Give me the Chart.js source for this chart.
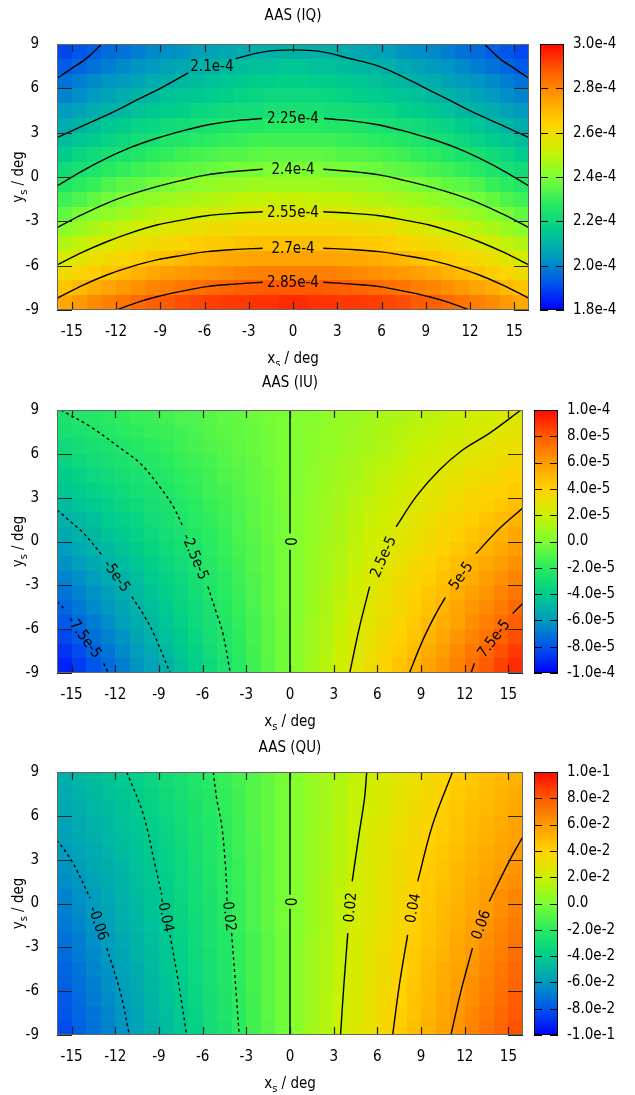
<!DOCTYPE html>
<html>
<head>
<meta charset="utf-8">
<title>AAS maps</title>
<script src="https://cdn.jsdelivr.net/npm/chart.js@4.4.1/dist/chart.umd.min.js"></script>
<style>
  html, body { margin: 0; padding: 0; background: #fff; }
  #wrap { width: 635px; }
  canvas { display: block; }
</style>
</head>
<body>
<div id="wrap">
  <canvas id="iqChart" width="635" height="366"></canvas>
  <canvas id="iuChart" width="635" height="364"></canvas>
  <canvas id="quChart" width="635" height="365"></canvas>
</div>
<script>
// cell centres in deg (1 deg cells)
const xCells = [-15.5,-14.5,-13.5,-12.5,-11.5,-10.5,-9.5,-8.5,-7.5,-6.5,-5.5,-4.5,-3.5,-2.5,-1.5,-0.5,
                0.5,1.5,2.5,3.5,4.5,5.5,6.5,7.5,8.5,9.5,10.5,11.5,12.5,13.5,14.5,15.5];
const yCells = [8.5,7.5,6.5,5.5,4.5,3.5,2.5,1.5,0.5,-0.5,-1.5,-2.5,-3.5,-4.5,-5.5,-6.5,-7.5,-8.5];
const xTicks = [-15,-12,-9,-6,-3,0,3,6,9,12,15];
const yTicks = [-9,-6,-3,0,3,6,9];

// AAS (IQ), units of 1e-6
const iqRows = [
  [190,192,194,196,197,199,201,202,203,205,206,207,208,209,209,210,210,209,209,208,207,206,205,203,202,201,199,197,196,194,192,190],
  [193,195,197,199,201,203,204,206,207,209,210,211,212,213,213,214,214,213,213,212,211,210,209,207,206,204,203,201,199,197,195,193],
  [197,199,201,203,204,206,208,209,211,212,213,214,215,216,216,217,217,216,216,215,214,213,212,211,209,208,206,204,203,201,199,197],
  [200,202,204,206,208,210,211,213,214,215,216,217,218,219,220,220,220,220,219,218,217,216,215,214,213,211,210,208,206,204,202,200],
  [204,206,208,210,211,213,215,216,217,219,220,221,222,222,223,223,223,223,222,222,221,220,219,217,216,215,213,211,210,208,206,204],
  [208,210,212,214,216,218,219,221,222,223,224,225,226,226,227,227,227,227,226,226,225,224,223,222,221,219,218,216,214,212,210,208],
  [212,214,216,218,220,222,223,225,226,227,228,229,230,231,231,231,231,231,231,230,229,228,227,226,225,223,222,220,218,216,214,212],
  [216,219,221,223,224,226,228,229,231,232,233,234,234,235,236,236,236,236,235,234,234,233,232,231,229,228,226,224,223,221,219,216],
  [221,223,225,227,229,231,232,234,235,236,237,238,239,239,240,240,240,240,239,239,238,237,236,235,234,232,231,229,227,225,223,221],
  [226,228,230,233,235,236,238,239,241,242,243,244,244,245,245,245,245,245,245,244,244,243,242,241,239,238,236,235,233,230,228,226],
  [231,233,236,238,240,242,243,245,246,247,248,249,250,250,251,251,251,251,250,250,249,248,247,246,245,243,242,240,238,236,233,231],
  [236,239,241,243,245,247,249,250,251,253,254,254,255,256,256,256,256,256,256,255,254,254,253,251,250,249,247,245,243,241,239,236],
  [242,244,247,249,251,253,254,256,257,259,260,260,261,262,262,262,262,262,262,261,260,260,259,257,256,254,253,251,249,247,244,242],
  [248,250,253,255,257,259,260,262,263,265,266,266,267,268,268,268,268,268,268,267,266,266,265,263,262,260,259,257,255,253,250,248],
  [254,256,259,261,263,265,267,268,270,271,272,273,273,274,274,274,274,274,274,273,273,272,271,270,268,267,265,263,261,259,256,254],
  [260,263,265,267,269,271,273,275,276,277,278,279,280,281,281,281,281,281,281,280,279,278,277,276,275,273,271,269,267,265,263,260],
  [267,269,272,274,276,278,280,281,283,284,285,286,287,287,288,288,288,288,287,287,286,285,284,283,281,280,278,276,274,272,269,267],
  [273,276,279,281,283,285,287,288,290,291,292,293,293,294,294,295,295,294,294,293,293,292,291,290,288,287,285,283,281,279,276,273]
];
const iqBarTicks = [180,200,220,240,260,280,300];
const iqBarLabels = ['1.8e-4','2.0e-4','2.2e-4','2.4e-4','2.6e-4','2.8e-4','3.0e-4'];
// contour lines: label, dashed, part before label, part after label
const iqLines = [
  ['', false, [[-16,6.68],[-15,7.35],[-14,8.03],[-12.97,9]], []],
  ['', false, [[12.97,9],[14,8.03],[15,7.35],[16,6.68]], []],
  ['2.1e-4', false, [[-16,2.66],[-14.3,3.45],[-12.6,4.2],[-10.5,5.25],[-8.8,6.1],[-7.1,7.05]],
    [[-3.9,8.0],[-2,8.47],[0,8.6],[2,8.47],[3.9,8.0],[5.5,7.6],[7.1,6.95],[8.8,6.1],[10.5,5.25],[12.6,4.2],[14.3,3.45],[16,2.66]]],
  ['2.25e-4', false, [[-16,-0.61],[-14.3,0.4],[-12.63,1.27],[-11,2.0],[-9.24,2.62],[-7.5,3.12],[-5.85,3.52],[-4,3.8],[-2.1,3.96]],
    [[2.1,3.96],[4,3.8],[5.85,3.52],[7.5,3.12],[9.24,2.62],[11,2.0],[12.63,1.27],[14.3,0.4],[16,-0.61]]],
  ['2.4e-4', false, [[-16,-3.43],[-14.3,-2.55],[-12.63,-1.78],[-11,-1.18],[-9.24,-0.65],[-7.5,-0.22],[-5.85,0.14],[-4,0.37],[-2.05,0.52]],
    [[2.05,0.52],[4,0.37],[5.85,0.14],[7.5,-0.22],[9.24,-0.65],[11,-1.18],[12.63,-1.78],[14.3,-2.55],[16,-3.43]]],
  ['2.55e-4', false, [[-16,-5.95],[-14.3,-5.1],[-12.63,-4.38],[-11,-3.78],[-9.24,-3.25],[-7.5,-2.9],[-5.85,-2.62],[-4,-2.46],[-2.05,-2.35]],
    [[2.05,-2.35],[4,-2.46],[5.85,-2.62],[7.5,-2.9],[9.24,-3.25],[11,-3.78],[12.63,-4.38],[14.3,-5.1],[16,-5.95]]],
  ['2.7e-4', false, [[-16,-8.21],[-14.3,-7.35],[-12.63,-6.63],[-11,-6.08],[-9.24,-5.61],[-7.5,-5.3],[-5.85,-5.05],[-4,-4.91],[-2.05,-4.82]],
    [[2.05,-4.82],[4,-4.91],[5.85,-5.05],[7.5,-5.3],[9.24,-5.61],[11,-6.08],[12.63,-6.63],[14.3,-7.35],[16,-8.21]]],
  ['2.85e-4', false, [[-11.95,-9],[-10.6,-8.5],[-9.24,-8.1],[-7.5,-7.72],[-5.85,-7.42],[-4,-7.25],[-2.05,-7.12]],
    [[2.05,-7.12],[4,-7.25],[5.85,-7.42],[7.5,-7.72],[9.24,-8.1],[10.6,-8.5],[11.95,-9]]]
];

// AAS (IU), units of 1e-6
const iuRows = [
  [-26,-24,-22,-21,-19,-17,-16,-14,-12,-11,-9,-7,-6,-4,-2,-1,1,2,4,6,7,9,11,12,14,16,17,19,21,22,24,26],
  [-28,-27,-25,-23,-21,-19,-17,-16,-14,-12,-10,-8,-6,-5,-3,-1,1,3,5,6,8,10,12,14,16,17,19,21,23,25,27,28],
  [-32,-30,-28,-26,-24,-22,-20,-18,-15,-13,-11,-9,-7,-5,-3,-1,1,3,5,7,9,11,13,15,18,20,22,24,26,28,30,32],
  [-36,-33,-31,-29,-26,-24,-22,-20,-17,-15,-13,-10,-8,-6,-3,-1,1,3,6,8,10,13,15,17,20,22,24,26,29,31,33,36],
  [-40,-37,-34,-32,-29,-27,-24,-22,-19,-17,-14,-11,-9,-6,-4,-1,1,4,6,9,11,14,17,19,22,24,27,29,32,34,37,40],
  [-43,-40,-38,-35,-32,-29,-27,-24,-21,-18,-15,-13,-10,-7,-4,-1,1,4,7,10,13,15,18,21,24,27,29,32,35,38,40,43],
  [-47,-44,-41,-38,-35,-32,-29,-26,-23,-20,-17,-14,-11,-8,-5,-2,2,5,8,11,14,17,20,23,26,29,32,35,38,41,44,47],
  [-51,-48,-45,-41,-38,-35,-31,-28,-25,-21,-18,-15,-12,-8,-5,-2,2,5,8,12,15,18,21,25,28,31,35,38,41,45,48,51],
  [-55,-51,-48,-44,-41,-37,-34,-30,-27,-23,-20,-16,-12,-9,-5,-2,2,5,9,12,16,20,23,27,30,34,37,41,44,48,51,55],
  [-59,-55,-51,-48,-44,-40,-36,-32,-29,-25,-21,-17,-13,-10,-6,-2,2,6,10,13,17,21,25,29,32,36,40,44,48,51,55,59],
  [-63,-59,-55,-51,-47,-43,-39,-35,-31,-27,-22,-18,-14,-10,-6,-2,2,6,10,14,18,22,27,31,35,39,43,47,51,55,59,63],
  [-67,-63,-59,-54,-50,-46,-41,-37,-33,-28,-24,-20,-15,-11,-7,-2,2,7,11,15,20,24,28,33,37,41,46,50,54,59,63,67],
  [-71,-67,-62,-58,-53,-48,-44,-39,-35,-30,-25,-21,-16,-12,-7,-2,2,7,12,16,21,25,30,35,39,44,48,53,58,62,67,71],
  [-75,-70,-65,-61,-56,-51,-46,-41,-36,-32,-27,-22,-17,-12,-7,-2,2,7,12,17,22,27,32,36,41,46,51,56,61,65,70,75],
  [-79,-74,-69,-64,-58,-53,-48,-43,-38,-33,-28,-23,-18,-13,-8,-3,3,8,13,18,23,28,33,38,43,48,53,58,64,69,74,79],
  [-83,-78,-72,-67,-62,-56,-51,-45,-40,-35,-29,-24,-19,-13,-8,-3,3,8,13,19,24,29,35,40,45,51,56,62,67,72,78,83],
  [-88,-82,-76,-71,-65,-59,-54,-48,-42,-37,-31,-25,-20,-14,-8,-3,3,8,14,20,25,31,37,42,48,54,59,65,71,76,82,88],
  [-92,-86,-80,-74,-68,-62,-57,-51,-45,-39,-33,-27,-21,-15,-9,-3,3,9,15,21,27,33,39,45,51,57,62,68,74,80,86,92]
];
const iuBarTicks = [-100,-80,-60,-40,-20,0,20,40,60,80,100];
const iuBarLabels = ['-1.0e-4','-8.0e-5','-6.0e-5','-4.0e-5','-2.0e-5','0.0','2.0e-5','4.0e-5','6.0e-5','8.0e-5','1.0e-4'];
const iuLines = [
  ['-2.5e-5', true, [[-15.75,9],[-13.71,7.86],[-11.47,6.26],[-10.29,5.35],[-8.95,3.75],[-8.01,2.38],[-7.35,1.01]],
    [[-5.64,-3.09],[-5.04,-4.92],[-4.61,-6.28],[-4.1,-9]]],
  ['2.5e-5', false, [[15.86,9],[13.68,7.4],[11.85,6.26],[10.26,4.89],[8.66,3.07],[7.29,1.01]],
    [[5.47,-3.09],[4.78,-5.83],[4.1,-9]]],
  ['-5e-5', true, [[-16,2.16],[-15,1.3],[-14.17,0.56],[-12.91,-0.92]],
    [[-10.86,-3.78],[-10.0,-5.1],[-9.37,-6.28],[-8.23,-9]]],
  ['5e-5', false, [[16,2.3],[14.4,0.9],[12.77,-0.83]],
    [[10.67,-3.83],[10.03,-4.92],[9.12,-6.75],[8.2,-9]]],
  ['-7.5e-5', true, [[-16,-4.12],[-15.43,-4.69]], [[-12.8,-8.34],[-12.46,-9]]],
  ['7.5e-5', false, [[16,-4.23],[15.29,-4.92]], [[12.66,-8.34],[12.43,-9]]],
  ['0', false, [[0,9],[0,0.57]], [[0,-0.57],[0,-9]]]
];

// AAS (QU), units of 1e-3
const quRows = [
  [-52,-49,-47,-44,-41,-38,-35,-31,-28,-24,-21,-17,-13,-10,-6,-2,2,6,10,13,17,21,24,28,31,35,38,41,44,47,49,52],
  [-54,-51,-48,-45,-43,-40,-36,-32,-29,-25,-22,-18,-14,-10,-6,-2,2,6,10,14,18,22,25,29,32,36,40,43,45,48,51,54],
  [-55,-52,-49,-47,-44,-41,-37,-33,-30,-26,-22,-18,-14,-10,-6,-2,2,6,10,14,18,22,26,30,33,37,41,44,47,49,52,55],
  [-57,-54,-51,-48,-45,-42,-39,-35,-31,-27,-23,-19,-15,-10,-6,-2,2,6,10,15,19,23,27,31,35,39,42,45,48,51,54,57],
  [-58,-55,-52,-49,-46,-43,-40,-36,-32,-28,-24,-19,-15,-11,-6,-2,2,6,11,15,19,24,28,32,36,40,43,46,49,52,55,58],
  [-60,-57,-54,-51,-47,-44,-41,-37,-33,-28,-24,-20,-15,-11,-7,-2,2,7,11,15,20,24,28,33,37,41,44,47,51,54,57,60],
  [-62,-59,-55,-52,-49,-45,-42,-38,-34,-29,-25,-20,-16,-11,-7,-2,2,7,11,16,20,25,29,34,38,42,45,49,52,55,59,62],
  [-64,-61,-57,-54,-50,-46,-43,-39,-34,-30,-25,-21,-16,-12,-7,-2,2,7,12,16,21,25,30,34,39,43,46,50,54,57,61,64],
  [-67,-63,-59,-55,-51,-47,-44,-40,-35,-30,-26,-21,-17,-12,-7,-2,2,7,12,17,21,26,30,35,40,44,47,51,55,59,63,67],
  [-68,-64,-60,-56,-52,-48,-44,-40,-36,-31,-26,-22,-17,-12,-7,-2,2,7,12,17,22,26,31,36,40,44,48,52,56,60,64,68],
  [-70,-66,-62,-58,-53,-49,-45,-41,-36,-32,-27,-22,-17,-12,-7,-2,2,7,12,17,22,27,32,36,41,45,49,53,58,62,66,70],
  [-72,-68,-63,-59,-55,-50,-46,-42,-37,-32,-27,-23,-18,-13,-8,-3,3,8,13,18,23,27,32,37,42,46,50,55,59,63,68,72],
  [-74,-69,-65,-60,-56,-51,-47,-43,-38,-33,-28,-23,-18,-13,-8,-3,3,8,13,18,23,28,33,38,43,47,51,56,60,65,69,74],
  [-76,-71,-66,-62,-57,-53,-48,-43,-39,-34,-29,-24,-18,-13,-8,-3,3,8,13,18,24,29,34,39,43,48,53,57,62,66,71,76],
  [-77,-72,-68,-63,-58,-54,-49,-44,-40,-34,-29,-24,-19,-13,-8,-3,3,8,13,19,24,29,34,40,44,49,54,58,63,68,72,77],
  [-79,-74,-69,-64,-60,-55,-50,-45,-40,-35,-30,-25,-19,-14,-8,-3,3,8,14,19,25,30,35,40,45,50,55,60,64,69,74,79],
  [-80,-75,-71,-66,-61,-56,-51,-46,-41,-36,-30,-25,-20,-14,-8,-3,3,8,14,20,25,30,36,41,46,51,56,61,66,71,75,80],
  [-82,-77,-72,-67,-62,-57,-52,-47,-42,-37,-31,-26,-20,-14,-9,-3,3,9,14,20,26,31,37,42,47,52,57,62,67,72,77,82]
];
const quBarTicks = [-100,-80,-60,-40,-20,0,20,40,60,80,100];
const quBarLabels = ['-1.0e-1','-8.0e-2','-6.0e-2','-4.0e-2','-2.0e-2','0.0','2.0e-2','4.0e-2','6.0e-2','8.0e-2','1.0e-1'];
const quLines = [
  ['-0.02', true, [[-5.27,9],[-5.04,7.22],[-4.7,5.39],[-4.47,3.11],[-4.32,0.6]], [[-4.01,-2.03],[-3.67,-6.48],[-3.49,-9]]],
  ['0.02', false, [[5.27,9],[5.12,7.22],[4.77,4.93],[4.27,1.51]], [[3.97,-2.03],[3.7,-5.57],[3.47,-9]]],
  ['-0.04', true, [[-11.21,9],[-10.07,6.08],[-9.27,2.65],[-8.81,0.6]], [[-8.24,-2.14],[-7.67,-5.34],[-7.1,-9]]],
  ['0.04', false, [[11.16,9],[9.79,5.39],[8.77,1.51]], [[8.08,-2.14],[7.51,-5.57],[7.05,-9]]],
  ['-0.06', true, [[-16,4.36],[-14.97,2.88],[-13.72,0.37]], [[-12.58,-3.05],[-11.66,-6.03],[-11.03,-9]]],
  ['0.06', false, [[16,4.59],[15.05,2.88],[13.68,0.14]], [[12.53,-3.05],[11.73,-6.03],[11.05,-9]]],
  ['0', false, [[0,9],[0,0.6]], [[0,-0.36],[0,-9]]]
];

// colour palette (blue - green - yellow - red)
const palPos = [0, 0.1, 0.2, 0.3, 0.4, 0.5, 0.6, 0.7, 0.8, 0.9, 1];
const palRGB = [[0,0,255],[0,85,235],[0,155,190],[0,205,140],[40,235,95],[125,255,50],
                [205,240,0],[255,210,0],[255,155,0],[255,90,0],[255,10,0]];

function palette(t) {
  t = Math.min(1, Math.max(0, t));
  let i = 1;
  while (i < palPos.length - 1 && t > palPos[i]) i++;
  const f = (t - palPos[i - 1]) / (palPos[i] - palPos[i - 1]);
  const a = palRGB[i - 1], b = palRGB[i];
  return 'rgb(' + [0, 1, 2].map(k => Math.round(a[k] + (b[k] - a[k]) * f)).join(',') + ')';
}

// condensed face if the system has it, otherwise Liberation Sans
function pickFamily() {
  const c = document.createElement('canvas').getContext('2d');
  c.font = '20px monospace';
  const base = c.measureText('2.85e-4 AAS (IQ)').width;
  c.font = '20px "DejaVu Sans Condensed", monospace';
  return c.measureText('2.85e-4 AAS (IQ)').width !== base ? '"DejaVu Sans Condensed"' : '"Liberation Sans"';
}
const FAMILY = pickFamily();
Chart.defaults.font.family = FAMILY;
Chart.defaults.font.size = 15;
Chart.defaults.color = '#000';

function subText(ctx, x, y, rot, main, sub, rest) {
  ctx.save();
  ctx.translate(x, y);
  ctx.rotate(rot);
  ctx.textBaseline = 'middle';
  ctx.textAlign = 'left';
  const big = '15px ' + FAMILY, small = '11px ' + FAMILY;
  ctx.font = big;
  const w1 = ctx.measureText(main).width, w3 = ctx.measureText(rest).width;
  ctx.font = small;
  const w2 = ctx.measureText(sub).width;
  let cx = -(w1 + w2 + w3) / 2;
  ctx.font = big; ctx.fillText(main, cx, 0); cx += w1;
  ctx.font = small; ctx.fillText(sub, cx, 5); cx += w2;
  ctx.font = big; ctx.fillText(rest, cx, 0);
  ctx.restore();
}

function heatLayer(opt) {
  return {
    id: 'heat',
    beforeDatasetsDraw(chart) {
      const { ctx, scales: { x, y } } = chart;
      ctx.save();
      opt.rows.forEach((row, r) => {
        const top = Math.round(y.getPixelForValue(yCells[r] + 0.5));
        const bot = Math.round(y.getPixelForValue(yCells[r] - 0.5));
        row.forEach((v, c) => {
          const l = Math.round(x.getPixelForValue(xCells[c] - 0.5));
          const rr = Math.round(x.getPixelForValue(xCells[c] + 0.5));
          ctx.fillStyle = palette((v - opt.lo) / (opt.hi - opt.lo));
          ctx.fillRect(l, top, rr - l, bot - top);
        });
      });
      ctx.restore();
    }
  };
}

function frameLayer(opt) {
  return {
    id: 'frame',
    afterDatasetsDraw(chart) {
      const { ctx, chartArea: a, scales: { x, y } } = chart;
      ctx.save();
      // contour labels sit in the gap between the two parts of a line
      ctx.font = '15px ' + FAMILY;
      ctx.fillStyle = '#000';
      ctx.textAlign = 'center';
      ctx.textBaseline = 'middle';
      opt.lines.forEach(ln => {
        if (!ln[0] || !ln[3].length) return;
        const p = ln[2][ln[2].length - 1], q = ln[3][0];
        const px = x.getPixelForValue(p[0]), py = y.getPixelForValue(p[1]);
        const qx = x.getPixelForValue(q[0]), qy = y.getPixelForValue(q[1]);
        let ang = opt.rotate ? Math.atan2(qy - py, qx - px) : 0;
        if (ang > Math.PI / 2 + 0.01) ang -= Math.PI;
        if (ang < -Math.PI / 2) ang += Math.PI;
        ctx.save();
        ctx.translate((px + qx) / 2, (py + qy) / 2);
        ctx.rotate(ang);
        ctx.fillText(ln[0], 0, 1);
        ctx.restore();
      });
      // inward tics on all four sides
      ctx.strokeStyle = '#222';
      ctx.lineWidth = 1.2;
      ctx.beginPath();
      xTicks.forEach(v => {
        const tx = Math.round(x.getPixelForValue(v)) + 0.5;
        ctx.moveTo(tx, a.bottom); ctx.lineTo(tx, a.bottom - 8);
        ctx.moveTo(tx, a.top); ctx.lineTo(tx, a.top + 8);
      });
      yTicks.forEach(v => {
        const ty = Math.round(y.getPixelForValue(v)) + 0.5;
        ctx.moveTo(a.left, ty); ctx.lineTo(a.left + 15, ty);
        ctx.moveTo(a.right, ty); ctx.lineTo(a.right - 15, ty);
      });
      ctx.stroke();
      ctx.strokeStyle = '#666';
      ctx.lineWidth = 1;
      ctx.strokeRect(a.left + 0.5, a.top + 0.5, a.right - a.left - 1, a.bottom - a.top - 1);
      ctx.restore();
    },
    afterDraw(chart) {
      const { ctx, chartArea: a } = chart;
      const cb = chart.scales.cb;
      const top = cb.getPixelForValue(opt.hi), bot = cb.getPixelForValue(opt.lo);
      const left = a.right + 11, w = 24;
      ctx.save();
      const g = ctx.createLinearGradient(0, bot, 0, top);
      palPos.forEach((t, i) => g.addColorStop(t, palette(t)));
      ctx.fillStyle = g;
      ctx.fillRect(left, top, w, bot - top);
      ctx.strokeStyle = '#000';
      ctx.lineWidth = 1;
      ctx.strokeRect(left + 0.5, top + 0.5, w - 1, bot - top - 1);
      ctx.beginPath();
      opt.barTicks.forEach(v => {
        const ty = Math.round(cb.getPixelForValue(v)) + 0.5;
        ctx.moveTo(left, ty); ctx.lineTo(left + 8, ty);
        ctx.moveTo(left + w, ty); ctx.lineTo(left + w - 8, ty);
      });
      ctx.stroke();
      // titles
      ctx.fillStyle = '#000';
      ctx.font = '15px ' + FAMILY;
      ctx.textAlign = 'center';
      ctx.textBaseline = 'middle';
      const mid = (a.left + a.right) / 2;
      ctx.fillText(opt.title, mid, a.top - opt.titleGap);
      subText(ctx, mid, a.bottom + 49, 0, 'x', 's', ' / deg');
      subText(ctx, 19, (a.top + a.bottom) / 2, -Math.PI / 2, 'y', 's', ' / deg');
      ctx.restore();
    }
  };
}

function makePanel(id, opt) {
  const datasets = [];
  opt.lines.forEach(ln => {
    [ln[2], ln[3]].forEach(part => {
      if (!part.length) return;
      datasets.push({
        data: part.map(p => ({ x: p[0], y: p[1] })),
        showLine: true,
        borderColor: '#000',
        borderWidth: 1.4,
        borderDash: ln[1] ? [3, 3] : [],
        pointRadius: 0,
        tension: 0.35,
        clip: 0
      });
    });
  });

  return new Chart(document.getElementById(id), {
    type: 'scatter',
    data: { datasets: datasets },
    options: {
      responsive: false,
      animation: false,
      devicePixelRatio: 1,
      events: [],
      layout: { padding: { top: opt.top, left: 0, right: 0, bottom: 0 } },
      plugins: { legend: { display: false }, tooltip: { enabled: false } },
      scales: {
        x: {
          type: 'linear', min: -16, max: 16,
          afterBuildTicks: s => { s.ticks = xTicks.map(v => ({ value: v })); },
          afterFit: s => { s.height = opt.xh; },
          grid: { display: false, drawTicks: false },
          border: { display: false },
          ticks: { padding: 13, maxRotation: 0, autoSkip: false }
        },
        y: {
          type: 'linear', min: -9, max: 9,
          afterBuildTicks: s => { s.ticks = yTicks.map(v => ({ value: v })); },
          afterFit: s => { s.width = 57; },
          grid: { display: false, drawTicks: false },
          border: { display: false },
          ticks: { padding: 18, autoSkip: false }
        },
        cb: {
          type: 'linear', position: 'right', min: opt.lo, max: opt.hi,
          afterBuildTicks: s => { s.ticks = opt.barTicks.map(v => ({ value: v })); },
          afterFit: s => { s.width = opt.cbw; },
          // invisible tick marks push the labels past the colour box
          grid: { display: true, drawOnChartArea: false, drawTicks: true, tickLength: 40, color: 'rgba(0,0,0,0)' },
          border: { display: false },
          ticks: { padding: 4, autoSkip: false, callback: (v, i) => opt.barLabels[i] }
        }
      }
    },
    plugins: [heatLayer(opt), frameLayer(opt)]
  });
}

makePanel('iqChart', {
  title: 'AAS (IQ)', rows: iqRows, lines: iqLines, lo: 180, hi: 300,
  barTicks: iqBarTicks, barLabels: iqBarLabels, rotate: false, top: 44, xh: 56, cbw: 106, titleGap: 28
});
makePanel('iuChart', {
  title: 'AAS (IU)', rows: iuRows, lines: iuLines, lo: -100, hi: 100,
  barTicks: iuBarTicks, barLabels: iuBarLabels, rotate: true, top: 44, xh: 57, cbw: 112, titleGap: 27
});
makePanel('quChart', {
  title: 'AAS (QU)', rows: quRows, lines: quLines, lo: -100, hi: 100,
  barTicks: quBarTicks, barLabels: quBarLabels, rotate: true, top: 42, xh: 60, cbw: 112, titleGap: 24
});
</script>
</body>
</html>
